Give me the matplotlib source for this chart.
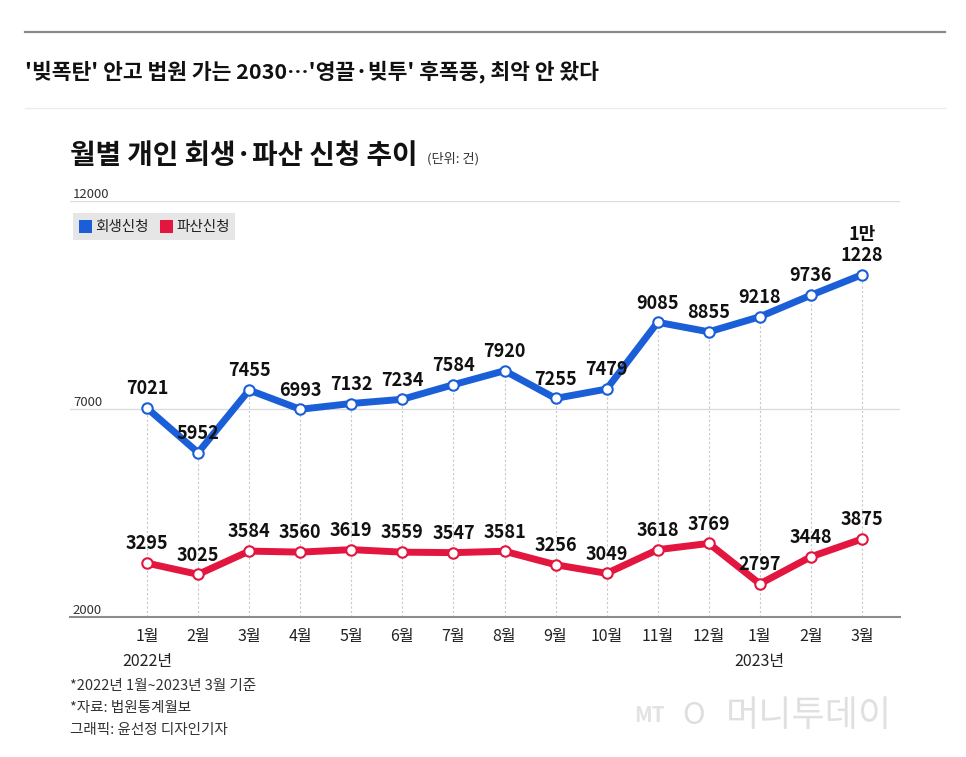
import numpy as np
import matplotlib.pyplot as plt
from matplotlib.patches import Rectangle
from matplotlib.lines import Line2D

plt.rcParams['font.family'] = ['Noto Sans CJK KR', 'DejaVu Sans']

# data (단위: 건)
months = ['1월', '2월', '3월', '4월', '5월', '6월', '7월', '8월', '9월', '10월',
          '11월', '12월', '1월', '2월', '3월']
rehab = [7021, 5952, 7455, 6993, 7132, 7234, 7584, 7920, 7255, 7479,
         9085, 8855, 9218, 9736, 10228]
bankrupt = [3295, 3025, 3584, 3560, 3619, 3559, 3547, 3581, 3256, 3049,
            3618, 3769, 2797, 3448, 3875]
rehab_labels = [str(v) for v in rehab[:-1]] + ['1만\n1228']
year_labels = {0: '2022년', 12: '2023년'}
yticks = [2000, 7000, 12000]

BLUE = '#1b5fd8'
RED = '#e2163f'
W, H = 966, 757

def fx(x):
    return x / W

def fy(y):
    return 1 - y / H

fig = plt.figure(figsize=(W / 100, H / 100), dpi=100)

# header
fig.add_artist(Line2D([fx(25), fx(945)], [fy(32), fy(32)], color='#8a8a8a', lw=1.6))
fig.add_artist(Line2D([fx(25), fx(945)], [fy(108), fy(108)], color='#ececec', lw=1))
fig.text(fx(25), fy(72), "'빚폭탄' 안고 법원 가는 2030…'영끌·빚투' 후폭풍, 최악 안 왔다",
         fontsize=15.5, weight='bold', color='#111', va='center')

# chart title
fig.text(fx(70), fy(156), '월별 개인 회생·파산 신청 추이', fontsize=20, weight='bold',
         color='#111', va='center')
fig.text(fx(427), fy(159), '(단위: 건)', fontsize=9.5, color='#333', va='center')

ax = fig.add_axes([fx(70), fy(617), (900 - 70) / W, (617 - 201) / H])
x = np.arange(len(months))
ax.set_xlim(-1.508, 14.744)
ax.set_ylim(2000, 12000)

for s in ['top', 'right', 'left']:
    ax.spines[s].set_visible(False)
ax.spines['bottom'].set_color('#8c8c8c')
ax.spines['bottom'].set_linewidth(1.5)
ax.set_yticks([])
ax.set_xticks(x)
ax.set_xticklabels(months, fontsize=11.5, color='#222')
ax.tick_params(axis='x', length=0, pad=8)

for v in yticks[1:]:
    ax.axhline(v, color='#dcdcdc', lw=1, zorder=0)
for v in yticks:
    ax.text(-1.45, v, str(v), fontsize=9.5, color='#333', va='bottom', ha='left')

for i, lab in year_labels.items():
    ax.annotate(lab, xy=(i, 0), xycoords=('data', 'axes fraction'), xytext=(0, -32),
                textcoords='offset points', ha='center', va='center',
                fontsize=11.5, color='#222')

# dotted guides
ax.vlines(x, 2000, rehab, colors='#c8c8c8', linestyles=(0, (2, 2)), lw=0.8, zorder=1)

ax.plot(x, rehab, color=BLUE, lw=5, marker='o', ms=7.5, mfc='white', mec=BLUE,
        mew=1.5, zorder=3, solid_capstyle='round')
ax.plot(x, bankrupt, color=RED, lw=5, marker='o', ms=7.5, mfc='white', mec=RED,
        mew=1.5, zorder=3, solid_capstyle='round')

for i, v in enumerate(rehab):
    ax.annotate(rehab_labels[i], (i, v), xytext=(0, 7), textcoords='offset points',
                ha='center', va='bottom', fontsize=13, weight='bold', color='#111',
                linespacing=1.1, zorder=4)
for i, v in enumerate(bankrupt):
    ax.annotate(str(v), (i, v), xytext=(0, 7), textcoords='offset points',
                ha='center', va='bottom', fontsize=13, weight='bold', color='#111',
                zorder=4)

# legend
fig.add_artist(Rectangle((fx(73), fy(240)), (235 - 73) / W, 27 / H, color='#e6e6e6', lw=0))
fig.add_artist(Rectangle((fx(79), fy(233)), 13 / W, 13 / H, color=BLUE, lw=0))
fig.text(fx(95), fy(227), '회생신청', fontsize=10.5, color='#222', va='center')
fig.add_artist(Rectangle((fx(160), fy(233)), 13 / W, 13 / H, color=RED, lw=0))
fig.text(fx(176), fy(227), '파산신청', fontsize=10.5, color='#222', va='center')

# footnotes
fig.text(fx(70), fy(686), '*2022년 1월~2023년 3월 기준', fontsize=10.5, color='#333', va='center')
fig.text(fx(70), fy(708), '*자료: 법원통계월보', fontsize=10.5, color='#333', va='center')
fig.text(fx(70), fy(730), '그래픽: 윤선정 디자인기자', fontsize=10.5, color='#333', va='center')

# watermark
fig.text(fx(634), fy(716), 'MT', fontsize=15, style='italic', weight='bold',
         color='#e2e2e2', va='center')
fig.text(fx(682), fy(716), 'O', fontsize=22, style='italic', color='#dedede', va='center')
fig.text(fx(726), fy(716), '머니투데이', fontsize=26, weight='light', color='#e0e0e0',
         va='center')

fig.savefig('out.png', dpi=100)
